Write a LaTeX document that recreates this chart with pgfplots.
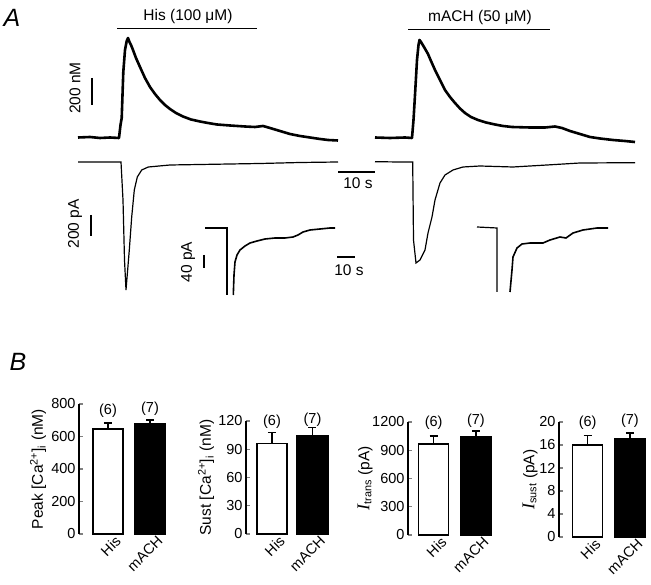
\documentclass[border=0pt]{standalone}
\usepackage{fontspec}
\setmainfont{Liberation Sans}
\newfontfamily\timesf{Liberation Serif}
\usepackage{pgfplots}
\pgfplotsset{compat=1.18}
\newcommand{\fs}[1]{\fontsize{#1}{#1}\selectfont}
\pgfplotsset{
 barax/.style={
  scale only axis, axis lines=left, axis line style={-, line width=1.3pt},
  x axis line style={draw=none}, xtick style={draw=none},
  ymin=0, clip=false,
  xtick={0,1}, xticklabels={His,mACH},
  xticklabel style={rotate=45, anchor=north east, inner sep=1pt, xshift=5pt, yshift=-4pt, font=\fs{14.5}},
  yticklabel style={font=\fs{14.5}},
  /pgf/number format/assume math mode=true,
  /pgf/number format/1000 sep={},
  tick align=inside, major tick length=4pt, ytick style={line width=1.2pt},
  ylabel style={anchor=center, font=\fs{15.5}},
  every axis plot/.append style={bar shift=0pt},
 },
 hisbar/.style={ybar, bar width=30pt, fill=white, draw=black, line width=1.6pt,
   error bars/.cd, y dir=plus, y explicit, error bar style={line width=1.4pt},
   error mark options={rotate=90, mark size=4pt, line width=1.4pt}},
 machbar/.style={ybar, bar width=31pt, fill=black, draw=black, line width=1.6pt,
   error bars/.cd, y dir=plus, y explicit, error bar style={line width=1.4pt},
   error mark options={rotate=90, mark size=4pt, line width=1.4pt}},
}
\begin{document}
\begin{tikzpicture}
\useasboundingbox (0,0) rectangle (651pt,585pt);
% ---------- Panel A (pixel coordinates) ----------
\begin{axis}[at={(0pt,0pt)}, anchor=south west, scale only axis, width=651pt, height=585pt,
  xmin=0, xmax=651, ymin=0, ymax=585, y dir=reverse, axis lines=none, clip=false]
% Ca traces
\addplot[line width=2.6pt, line join=round] coordinates {
(78,137.5)(90,137)(100,138)(110,137.5)(119,138)(120.5,125)(121.7,118)(123.3,72)(125,50)(126.7,41)(128,38)(129.5,42)(131,45)(133,50)(136,58)(140,67)(145,78)(150,87)(155,94)(160,100)(165,105)(170,109)(176,113)(183,116.5)(191,119.5)(200,121.5)(208,123)(217,124.5)(230,125.5)(245,126.5)(255,127)(263,126)(270,128)(280,131)(290,134)(300,136)(310,137.5)(320,139)(328,140)(338,140.5)};
\addplot[line width=2.6pt, line join=round] coordinates {
(375,137.5)(390,138)(405,137.5)(412,138)(413.5,120)(415,95)(417,60)(418.5,45)(419.5,40)(421,42)(424,47)(428,54)(431,61)(435,70)(440,80)(445,90)(450,97)(455,103)(460,108.5)(465,113)(471,117)(478,120)(486,122.5)(495,124.5)(503,126)(512,127)(530,127.5)(545,127.5)(555,126.5)(562,128)(570,131)(580,134)(590,137)(600,138.5)(613,140)(625,141)(635,142)};
% current traces
\addplot[line width=1.2pt] coordinates {
(78,162)(100,162)(121,162)(123,200)(124.5,260)(126,290)(129.3,250)(131.7,217)(134.3,190)(137.3,177)(141.7,170)(148.3,167)(170,165)(200,164.5)(260,163.5)(300,162.5)(338,162)};
\addplot[line width=1.2pt] coordinates {
(375,161.7)(400,162)(412.7,162)(413.5,240)(416,263)(420,260)(425,250)(428,233)(432,217)(435,200)(440,183)(445,175)(453,170)(463,167)(480,166)(513,167)(547,165)(580,163)(635,162.7)};
% insets
\addplot[line width=1.2pt] coordinates {(205,228)(227,228)(227,295)};
\addplot[line width=1.6pt] coordinates {
(233.3,295)(234,275)(235,262)(237,255)(240,250)(245,246)(250,243)(257,241)(265,239)(275,238)(285,238)(293,237)(298,235)(303,232)(310,230)(320,229)(330,228)(335,228)};
\addplot[line width=1.2pt] coordinates {(477,227)(497,228)(497,292)};
\addplot[line width=1.6pt] coordinates {
(510,292)(512,270)(513,257)(517,248)(522,244)(530,243)(543,243)(550,240)(560,237)(566,238)(573,233)(583,230)(597,228)(608,228)};
% drug bars
\addplot[line width=1.5pt] coordinates {(117,28.5)(257,28.5)};
\addplot[line width=1.5pt] coordinates {(408,29.5)(550,29.5)};
% scale bars
\addplot[line width=2.5pt] coordinates {(92,78)(92,105)};
\addplot[line width=2pt] coordinates {(91,215)(91,236)};
\addplot[line width=2pt] coordinates {(204,255)(204,268)};
\addplot[line width=2pt] coordinates {(338,172)(375,172)};
\addplot[line width=2pt] coordinates {(337,257)(355,257)};
% texts
\node[font=\fs{25}\itshape] at (axis cs:12,18) {A};
\node[font=\fs{25}\itshape] at (axis cs:18,362) {B};
\node[font=\fs{15.5}] at (axis cs:188,16.5) {His (100 μM)};
\node[font=\fs{15.5}] at (axis cs:480,17) {mACH (50 μM)};
\node[font=\fs{15.5}, rotate=90] at (axis cs:75,88) {200 nM};
\node[font=\fs{15.5}, rotate=90] at (axis cs:75,224) {200 pA};
\node[font=\fs{15.5}, rotate=90] at (axis cs:188,262) {40 pA};
\node[font=\fs{15.5}] at (axis cs:358,183) {10 s};
\node[font=\fs{15.5}] at (axis cs:349,270) {10 s};
\end{axis}
% ---------- Panel B ----------
\begin{axis}[barax, at={(79pt,51pt)}, anchor=south west, width=91pt, height=130pt,
  xmin=-0.690, xmax=1.476, ymax=800, ytick={0,200,...,800},
  ylabel={Peak [Ca\textsuperscript{2+}]\textsubscript{i} (nM)},
  ylabel style={at={([xshift=-41pt]axis description cs:0,0.5)}}]
\addplot[hisbar] coordinates {(0,646) +- (0,37)};
\addplot[machbar] coordinates {(1,677) +- (0,24)};
\node[font=\fs{14.5}] at (axis cs:0,757) {(6)};
\node[font=\fs{14.5}] at (axis cs:1,769) {(7)};
\end{axis}
\begin{axis}[barax, at={(246pt,51pt)}, anchor=south west, width=89pt, height=113pt,
  xmin=-0.642, xmax=1.556, ymax=120, ytick={0,30,...,120},
  ylabel={Sust [Ca\textsuperscript{2+}]\textsubscript{i} (nM)},
  ylabel style={at={([xshift=-40pt]axis description cs:0,0.5)}}]
\addplot[hisbar] coordinates {(0,96.3) +- (0,11.3)};
\addplot[machbar] coordinates {(1,104.4) +- (0,8.5)};
\node[font=\fs{14.5}] at (axis cs:0,119) {(6)};
\node[font=\fs{14.5}] at (axis cs:1,121) {(7)};
\end{axis}
\begin{axis}[barax, at={(408pt,50pt)}, anchor=south west, width=88pt, height=113pt,
  xmin=-0.607, xmax=1.476, ymax=1200, ytick={0,300,...,1200},
  ylabel={{\timesf\itshape\fs{18}I}\textsubscript{trans} (pA)},
  ylabel style={at={([xshift=-43pt]axis description cs:0,0.5)}}]
\addplot[hisbar] coordinates {(0,966) +- (0,85)};
\addplot[machbar] coordinates {(1,1041) +- (0,63)};
\node[font=\fs{14.5}] at (axis cs:0,1189) {(6)};
\node[font=\fs{14.5}] at (axis cs:1,1211) {(7)};
\end{axis}
\begin{axis}[barax, at={(559pt,48pt)}, anchor=south west, width=91pt, height=115pt,
  xmin=-0.679, xmax=1.476, ymax=20, ytick={0,4,...,20},
  ylabel={{\timesf\itshape\fs{18}I}\textsubscript{sust} (pA)},
  ylabel style={at={([xshift=-29pt]axis description cs:0,0.5)}}]
\addplot[hisbar] coordinates {(0,16.0) +- (0,1.6)};
\addplot[machbar] coordinates {(1,17.0) +- (0,1.1)};
\node[font=\fs{14.5}] at (axis cs:0,19.8) {(6)};
\node[font=\fs{14.5}] at (axis cs:1,20.2) {(7)};
\end{axis}
\end{tikzpicture}
\end{document}
